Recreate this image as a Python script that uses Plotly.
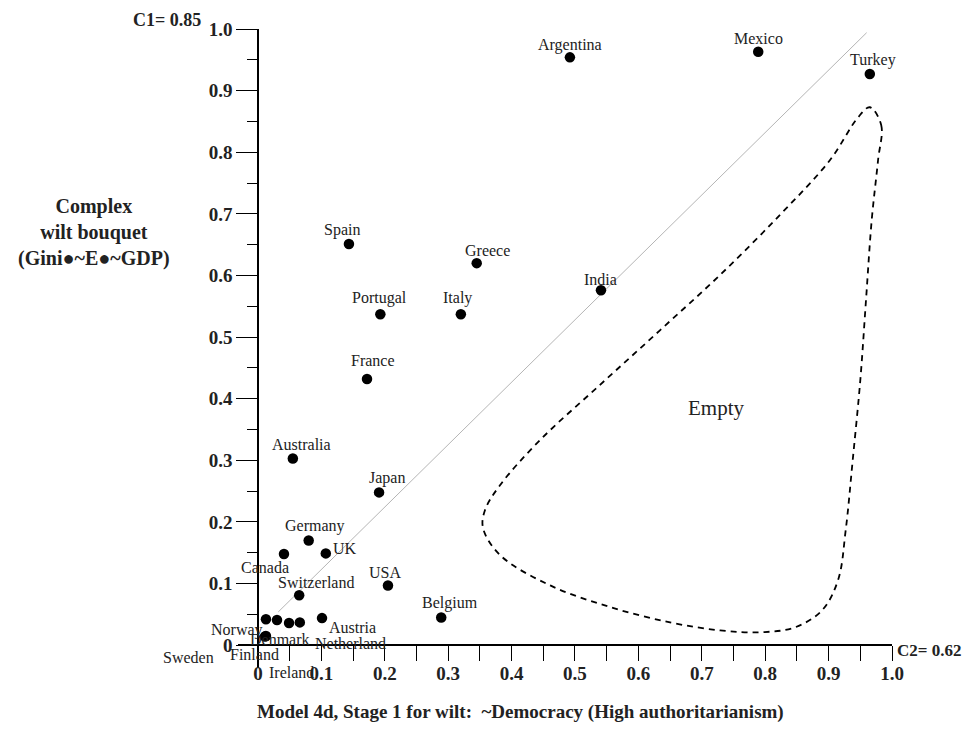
import plotly.graph_objects as go

# ---------------- data ----------------
countries = ["Argentina", "Mexico", "Turkey", "Spain", "Greece", "India", "Portugal",
             "Italy", "France", "Australia", "Japan", "Germany", "UK", "Canada",
             "Switzerland", "USA", "Belgium", "Norway", "Sweden", "Finland",
             "Denmark", "Ireland", "Netherland", "Austria"]
democracy = [0.492, 0.789, 0.965, 0.1435, 0.345, 0.541, 0.193,
             0.320, 0.172, 0.055, 0.191, 0.080, 0.107, 0.041,
             0.065, 0.205, 0.289, 0.0126, 0.011, 0.0126,
             0.030, 0.049, 0.066, 0.101]
bouquet = [0.954, 0.963, 0.927, 0.651, 0.620, 0.576, 0.537,
           0.537, 0.432, 0.303, 0.248, 0.170, 0.149, 0.148,
           0.081, 0.097, 0.045, 0.042, 0.014, 0.015,
           0.041, 0.036, 0.037, 0.044]

# diagonal reference line (end points)
diag_x = [0.032, 0.960]
diag_y = [0.054, 0.994]

# dashed "Empty" region outline
empty_x = [0.965, 0.983, 0.978, 0.968, 0.959, 0.950, 0.938, 0.927, 0.915, 0.890,
           0.847, 0.792, 0.729, 0.650, 0.555, 0.461, 0.382, 0.355, 0.358, 0.382,
           0.445, 0.539, 0.634, 0.729, 0.823, 0.902, 0.946, 0.965]
empty_y = [0.873, 0.844, 0.787, 0.690, 0.560, 0.430, 0.300, 0.187, 0.106, 0.057,
           0.029, 0.021, 0.024, 0.037, 0.062, 0.097, 0.146, 0.190, 0.219, 0.260,
           0.333, 0.422, 0.511, 0.601, 0.698, 0.787, 0.856, 0.873]
empty_label = "Empty"
empty_label_x = [0.722]
empty_label_y = [0.385]

tick_vals = [0, 0.1, 0.2, 0.3, 0.4, 0.5, 0.6, 0.7, 0.8, 0.9, 1.0]
tick_text = ["0", "0.1", "0.2", "0.3", "0.4", "0.5", "0.6", "0.7", "0.8", "0.9", "1.0"]

x_title = "Model 4d, Stage 1 for wilt:  ~Democracy (High authoritarianism)"
y_title = "Complex<br>wilt bouquet<br>(Gini\u25cf~E\u25cf~GDP)"
c1_text = "C1= 0.85"
c2_text = "C2= 0.62"

# label offsets in pixels (style only)
label_dx = [0, 0, 3, -7, 11, 0, -1, -3, 6, 9, 8, 6, 19, -19, 17, -3, 9,
            -29, -76, -11, 3, 2, 51, 30]
label_dy = [12, 13, 14, 14, 13, 11, 16, 16, 19, 14, 14, 14, 5, -13, 13, 13, 14,
            -11, -21, -19, -20, -49, -21, -9]

# ---------------- layout geometry ----------------
# page has an 8px body margin, so the figure is offset by 8px
OFF = 8
W, H = 963, 727
ML, MR, MT, MB = 230, 79, 21, 67
x_range = [-0.0315, 1.0]
y_range = [-0.037, 1.0]

def paper_x(p):
    return (p - OFF - ML) / (W - ML - MR)

def paper_y(p):
    return (H - MB - (p - OFF)) / (H - MT - MB)

SERIF = "Liberation Serif, Times New Roman, serif"

fig = go.Figure()

fig.add_trace(go.Scatter(x=diag_x, y=diag_y, mode="lines",
                         line=dict(color="#b5b5b5", width=1), hoverinfo="skip",
                         showlegend=False))
fig.add_trace(go.Scatter(x=empty_x, y=empty_y, mode="lines",
                         line=dict(color="black", width=1.8, dash="6px,5px", shape="spline",
                                   smoothing=1.0),
                         hoverinfo="skip", showlegend=False))
fig.add_trace(go.Scatter(x=democracy, y=bouquet, mode="markers", text=countries,
                         marker=dict(color="black", size=10.5), showlegend=False,
                         cliponaxis=False))

for name, xv, yv, dx, dy in zip(countries, democracy, bouquet, label_dx, label_dy):
    fig.add_annotation(x=xv, y=yv, xref="x", yref="y", text=name, showarrow=False,
                       xshift=dx, yshift=dy, xanchor="center", yanchor="middle",
                       font=dict(family=SERIF, size=16, color="#222"))

fig.add_annotation(x=empty_label_x[0], y=empty_label_y[0], xref="x", yref="y",
                   text=empty_label, showarrow=False,
                   font=dict(family=SERIF, size=21, color="#222"))

fig.add_annotation(x=paper_x(94), y=paper_y(233), xref="paper", yref="paper",
                   text=y_title, showarrow=False, align="center",
                   xanchor="center", yanchor="middle",
                   font=dict(family=SERIF, size=20, color="#222", weight="bold"))
fig.add_annotation(x=paper_x(520), y=paper_y(712), xref="paper", yref="paper",
                   text=x_title, showarrow=False, xanchor="center", yanchor="middle",
                   font=dict(family=SERIF, size=19, color="#222", weight="bold"))
fig.add_annotation(x=paper_x(167), y=paper_y(20), xref="paper", yref="paper",
                   text=c1_text, showarrow=False, xanchor="center", yanchor="middle",
                   font=dict(family=SERIF, size=18, color="#222", weight="bold"))
fig.add_annotation(x=paper_x(929), y=paper_y(650), xref="paper", yref="paper",
                   text=c2_text, showarrow=False, xanchor="center", yanchor="middle",
                   font=dict(family=SERIF, size=17, color="#222", weight="bold"))

x_pos = (0 - y_range[0]) / (y_range[1] - y_range[0])
y_pos = (0 - x_range[0]) / (x_range[1] - x_range[0])

tickfont = dict(family=SERIF, size=19, color="#222", weight="bold")

fig.update_layout(
    width=W, height=H,
    margin=dict(l=ML, r=MR, t=MT, b=MB, pad=0),
    paper_bgcolor="white", plot_bgcolor="white",
    xaxis=dict(range=x_range, anchor="free", position=x_pos,
               showline=True, linecolor="black", linewidth=1.5,
               showgrid=False, zeroline=False,
               tickmode="array", tickvals=tick_vals, ticktext=tick_text,
               ticks="outside", ticklen=15, tickwidth=1.2, tickcolor="black",
               ticklabelstandoff=-4,
               minor=dict(dtick=0.05, tick0=0, ticks="outside", ticklen=15,
                          tickwidth=1.2, tickcolor="black"),
               tickfont=tickfont),
    yaxis=dict(range=y_range, anchor="free", position=y_pos,
               showline=True, linecolor="black", linewidth=1.5,
               showgrid=False, zeroline=False,
               tickmode="array", tickvals=tick_vals, ticktext=tick_text,
               ticks="outside", ticklen=21, tickwidth=1.2, tickcolor="black",
               minor=dict(dtick=0.05, tick0=0, ticks="outside", ticklen=10,
                          tickwidth=1.2, tickcolor="black"),
               tickfont=tickfont),
)

fig.write_html("out.html")
